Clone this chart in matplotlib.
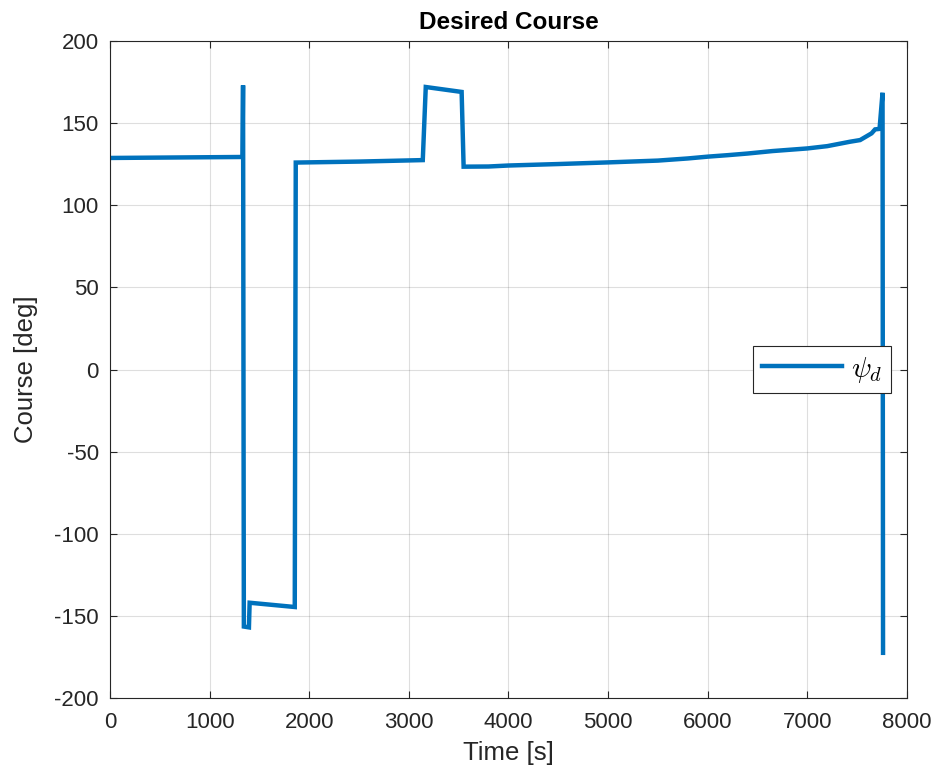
import numpy as np
import matplotlib.pyplot as plt

# desired course
time_s = [0, 1330, 1336, 1344, 1395, 1402, 1855, 1865, 2500, 3140, 3170, 3530, 3550,
          3800, 4000, 4500, 5000, 5500, 5800, 6000, 6200, 6400, 6650, 7000, 7200, 7430, 7530,
          7645, 7680, 7725, 7755, 7760]
course_deg = [128.8, 129.4, 173, -156.5, -157, -142, -144.6, 126, 126.6, 127.5, 172, 169, 123.5,
              123.6, 124.2, 125.1, 126.1, 127.2, 128.5, 129.6, 130.5, 131.5, 133, 134.6, 136, 138.7,
              139.7, 143.8, 146.2, 146.5, 168.5, -172.5]

plt.rcParams['font.family'] = ['Liberation Sans', 'DejaVu Sans']
plt.rcParams['axes.unicode_minus'] = False
plt.rcParams['mathtext.fontset'] = 'cm'

fig = plt.figure(figsize=(9.35, 7.74), dpi=100)
ax = fig.add_axes([0.1176, 0.0982, 0.8524, 0.8488])

ax.plot(time_s, course_deg, color='#0072BD', linewidth=3.2, label=r'$\psi_d$',
        solid_joinstyle='miter')

ax.set_xlim(0, 8000)
ax.set_ylim(-200, 200)
ax.set_xticks(np.arange(0, 8001, 1000))
ax.set_yticks(np.arange(-200, 201, 50))
ax.grid(True, color='#262626', alpha=0.15, linewidth=0.8)
ax.tick_params(direction='in', top=True, right=True, labelsize=16, colors='#262626',
               length=5, pad=8)
ax.tick_params(axis='x', pad=10)
for s in ax.spines.values():
    s.set_color('#262626')
    s.set_linewidth(0.8)

ax.set_xlabel('Time [s]', fontsize=18.5, color='#262626', labelpad=6)
ax.set_ylabel('Course [deg]', fontsize=18.5, color='#262626', labelpad=12)
ax.set_title('Desired Course', fontsize=17.5, fontweight='bold', pad=9)

leg = ax.legend(loc='center right', bbox_to_anchor=(0.98, 0.5), fontsize=21, fancybox=False,
                edgecolor='#262626', framealpha=1, handlelength=2.75, borderpad=0.3,
                handletextpad=0.3, borderaxespad=0)
leg.get_frame().set_linewidth(0.8)

fig.savefig('out.png', dpi=100)
